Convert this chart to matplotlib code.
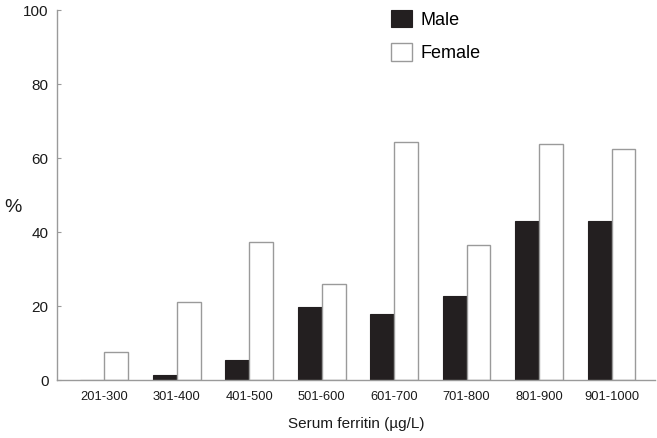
import matplotlib
matplotlib.use("Agg")
import matplotlib.pyplot as plt
import numpy as np

plt.rcParams['font.family'] = ['Liberation Sans', 'DejaVu Sans']

# serum ferritin groups and percentages
groups = ['201-300', '301-400', '401-500', '501-600',
          '601-700', '701-800', '801-900', '901-1000']
male = [0, 1.3, 5.5, 19.6, 17.8, 22.6, 43.0, 43.0]
female = [7.6, 21.2, 37.2, 25.9, 64.3, 36.4, 63.7, 62.4]

grey = '#9a9a9a'
x = np.arange(len(groups))
w = 0.33

fig = plt.figure(figsize=(6.57, 4.38), dpi=100)
ax = fig.add_axes([0.0868, 0.1324, 0.9102, 0.8447])

ax.bar(x - w/2, male, w, color='#231f20', edgecolor='#231f20', linewidth=0.8, label='Male')
ax.bar(x + w/2, female, w, color='white', edgecolor=grey, linewidth=1.0, label='Female')

ax.set_xlim(-0.65, 7.6)
ax.set_ylim(0, 100)
ax.set_yticks([0, 20, 40, 60, 80, 100])
ax.set_xticks(x)
ax.set_xticklabels(groups, fontsize=9.3, color='#1a1a1a')
ax.tick_params(axis='y', direction='in', length=3, color=grey, labelsize=11,
               labelcolor='#1a1a1a', pad=6)
ax.tick_params(axis='x', length=0, pad=8)

for s in ['top', 'right']:
    ax.spines[s].set_visible(False)
for s in ['left', 'bottom']:
    ax.spines[s].set_color(grey)
    ax.spines[s].set_linewidth(1.0)

ax.set_xlabel('Serum ferritin (\u00b5g/L)', fontsize=11, color='#1a1a1a', labelpad=10)
ax.set_ylabel('%', fontsize=14, rotation=0, color='#1a1a1a', va='center', ha='center')
ax.yaxis.set_label_coords(-0.074, 0.465)

ax.legend(loc='upper left', bbox_to_anchor=(0.5585, 1.0), frameon=False,
          fontsize=13, borderaxespad=0, borderpad=0, handlelength=1.17,
          handleheight=1.1, handletextpad=0.45, labelspacing=0.8)

fig.savefig('out.png', dpi=100)
